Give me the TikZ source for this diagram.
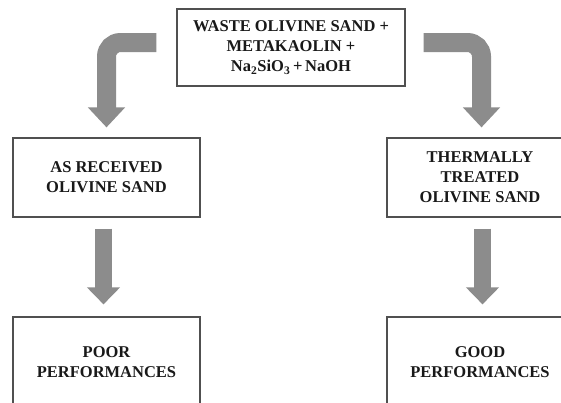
\documentclass[tikz,border=0pt]{standalone}
\usepackage{fontspec}
\setmainfont{Liberation Serif}
\usetikzlibrary{arrows.meta}
\definecolor{arrowgray}{RGB}{140,140,140}
\definecolor{boxline}{RGB}{80,80,80}
\definecolor{txt}{RGB}{25,25,25}
\tikzset{
  box/.style={draw=boxline, line width=1.2pt, fill=white, align=center, inner sep=0pt,
    text=txt, font=\bfseries\fontsize{16.5}{20}\selectfont},
  bendarrow/.style={draw=arrowgray, line width=19pt, rounded corners=14pt,
    -{Triangle[width=36pt,length=20pt]}},
  downarrow/.style={draw=arrowgray, line width=17pt,
    -{Triangle[width=32pt,length=17pt]}}
}
\begin{document}
\begin{tikzpicture}[x=1pt,y=-1pt]
\useasboundingbox (0,0) rectangle (561,402);
\clip (0,0) rectangle (561,402);
\fill[white] (0,0) rectangle (561,402);

\node[box, minimum width=228pt, minimum height=77pt] (top) at (291,47.5)
  {WASTE OLIVINE SAND +\\METAKAOLIN +\\Na\textsubscript{2}SiO\textsubscript{3}\,+\,NaOH};
\node[box, minimum width=187pt, minimum height=79pt] (ar) at (106.5,177.5)
  {AS RECEIVED\\OLIVINE SAND};
\node[box, minimum width=186pt, minimum height=79pt] (tt) at (480,177.5)
  {THERMALLY\\TREATED\\OLIVINE SAND};
\node[box, minimum width=187pt, minimum height=90pt] (pp) at (106.5,362)
  {POOR\\PERFORMANCES};
\node[box, minimum width=186pt, minimum height=90pt] (gp) at (480,362)
  {GOOD\\PERFORMANCES};

\coordinate (ls) at ([xshift=-20pt,yshift=5pt]top.west);
\coordinate (rs) at ([xshift=18pt,yshift=5pt]top.east);
\draw[bendarrow] (ls) -- (ar.north |- ls) -- ([yshift=10pt]ar.north);
\draw[bendarrow] (rs) -- ([xshift=1.5pt]tt.north |- rs) -- ([xshift=1.5pt,yshift=10pt]tt.north);

\draw[downarrow] ([xshift=-3pt,yshift=-11pt]ar.south) -- ([xshift=-3pt,yshift=12pt]pp.north);
\draw[downarrow] ([xshift=2.5pt,yshift=-11pt]tt.south) -- ([xshift=2.5pt,yshift=12pt]gp.north);
\end{tikzpicture}
\end{document}
